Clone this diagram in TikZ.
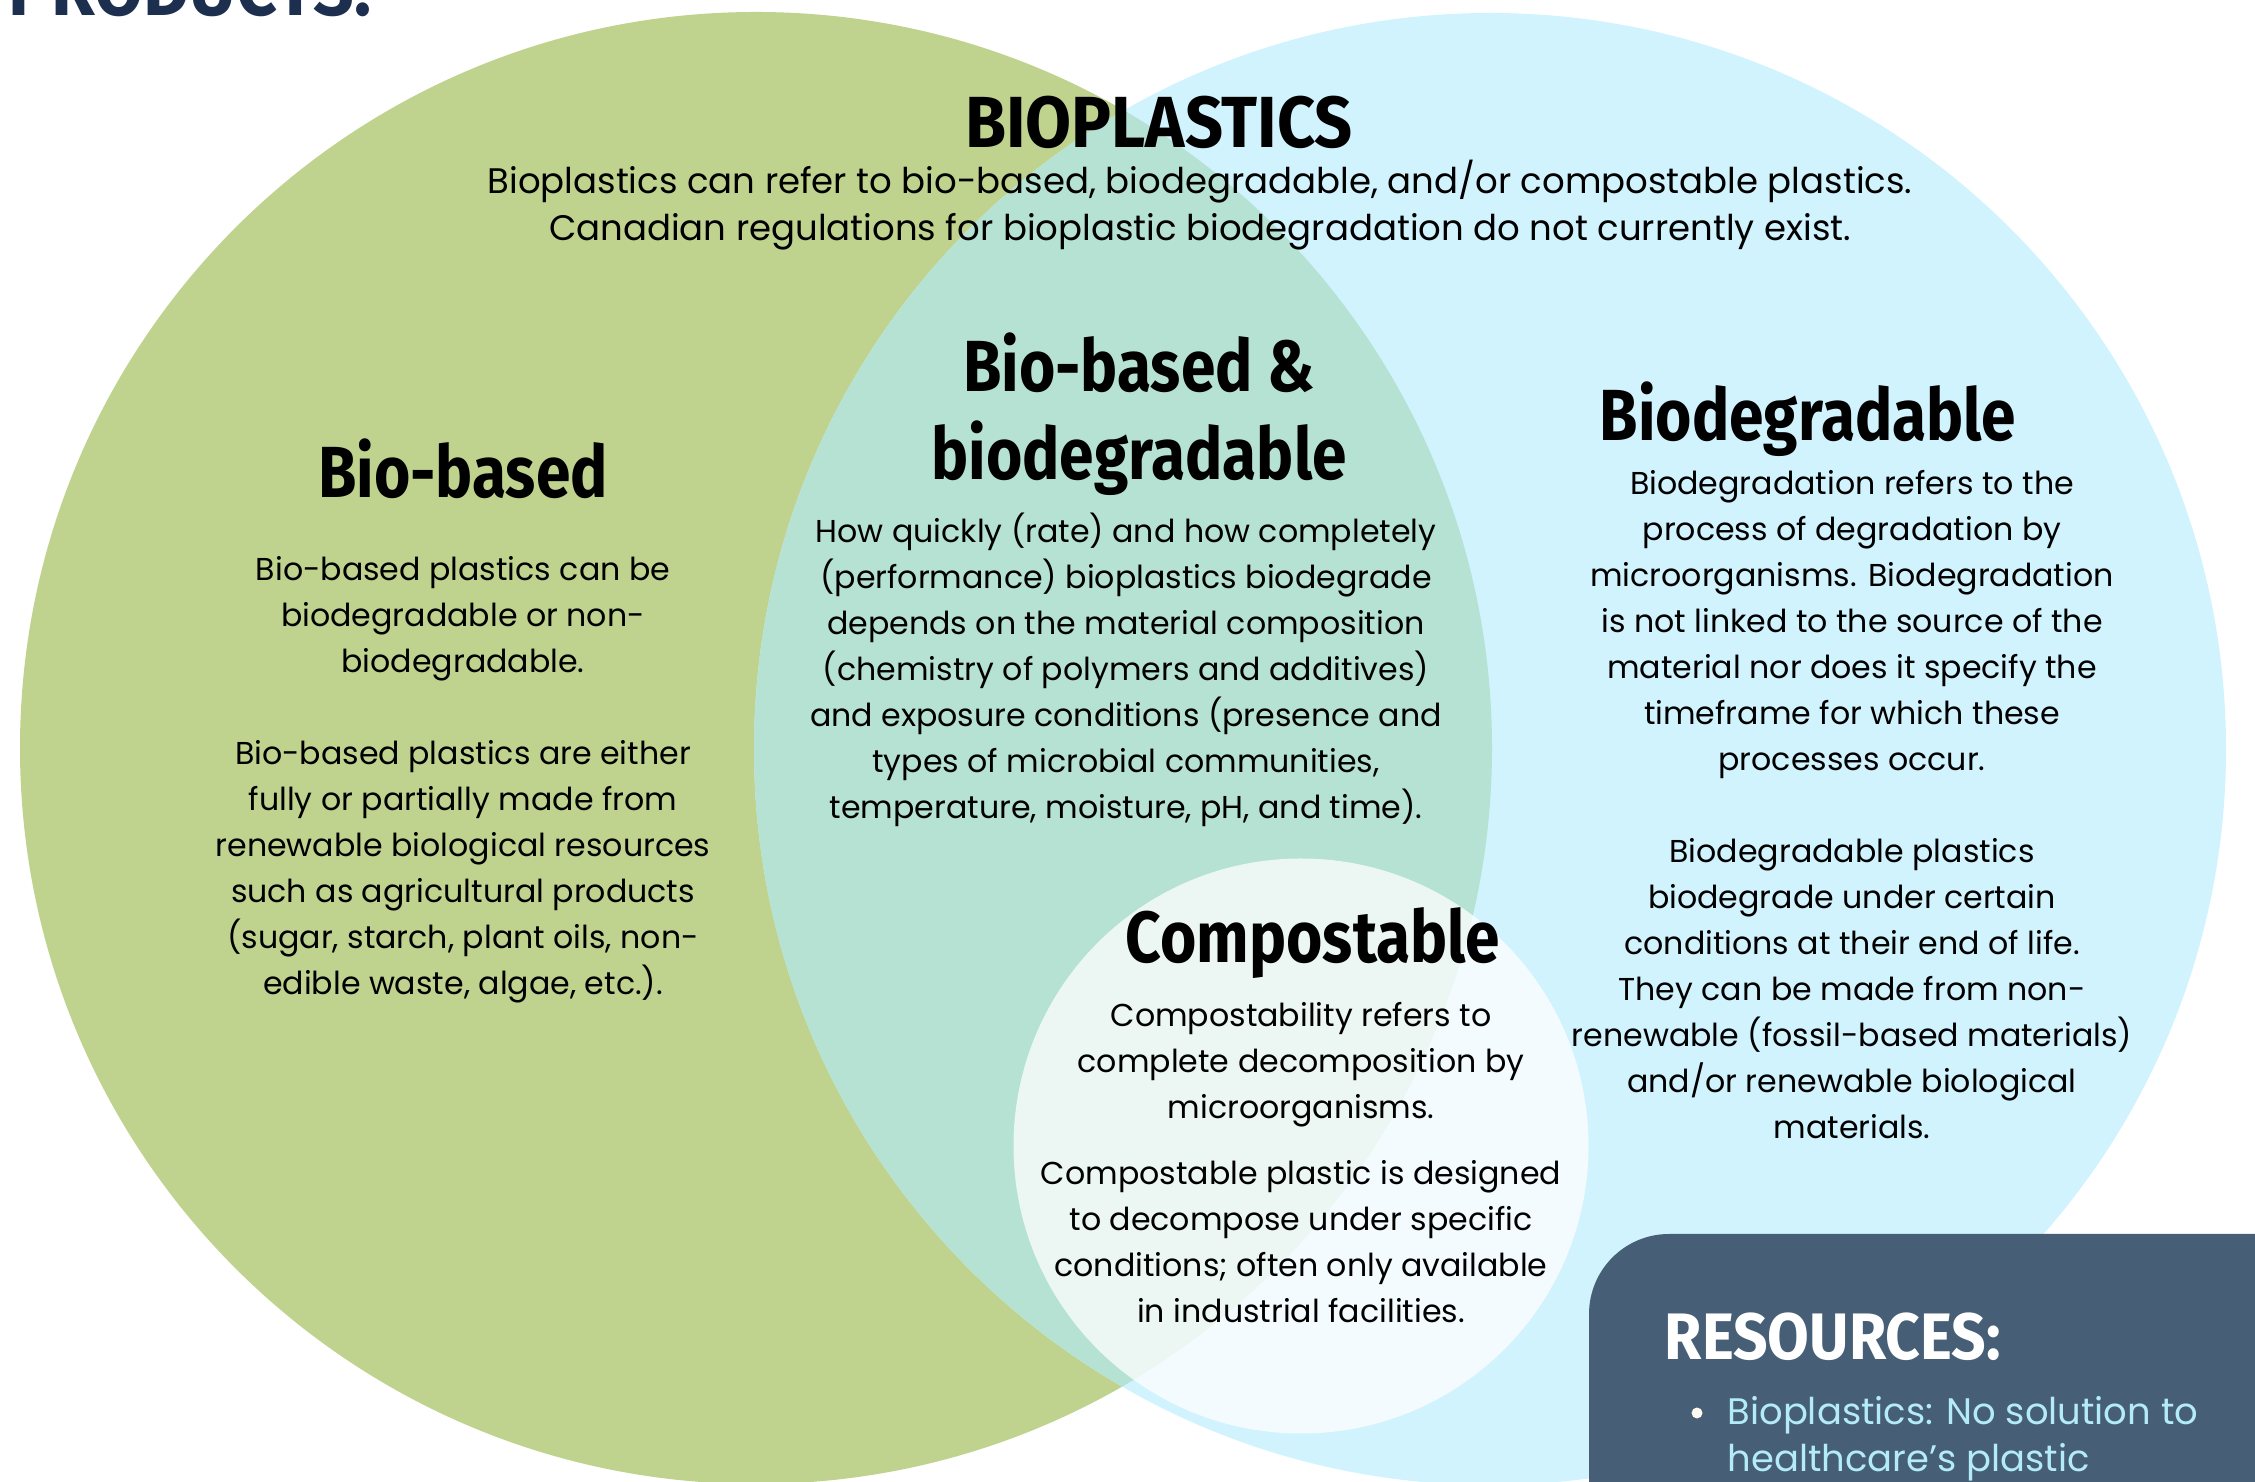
\documentclass[tikz,border=0pt]{standalone}
\usepackage{fontspec}
\setmainfont{Poppins}
\newfontfamily\headfont{Fira Sans}[FakeStretch=0.86]
\newfontfamily\capsfont{Fira Sans}[FakeStretch=0.92]

\definecolor{leafgreen}{HTML}{BFD38F}
\definecolor{skyblue}{HTML}{D1F3FD}
\definecolor{mintmix}{HTML}{B6E2D3}
\definecolor{slatebox}{HTML}{465F76}
\definecolor{navytitle}{HTML}{1D2F4F}
\definecolor{icetext}{HTML}{B4EBF8}

\begin{document}
\begin{tikzpicture}[
	head/.style={font=\headfont\bfseries\fontsize{20.6}{25.3}\selectfont, align=center, inner sep=0pt},
	body/.style={font=\fontsize{9}{13.1}\selectfont, align=center, inner sep=0pt},
	lead/.style={font=\fontsize{10.1}{13.4}\selectfont, align=center, inner sep=0pt}
	]
	\useasboundingbox (0,0) rectangle (22.55,14.81);
	\clip (0,0) rectangle (22.55,14.81);

	% the three sets
	\fill[leafgreen] (7.56,7.33) circle (7.36);
	\fill[skyblue] (14.90,7.32) circle (7.36);
	\begin{scope}
		\clip (7.56,7.33) circle (7.36);
		\fill[mintmix] (14.90,7.32) circle (7.36);
	\end{scope}
	\fill[white, fill opacity=0.75] (13.01,3.35) circle (2.875);

	% resources panel, bottom right
	\fill[slatebox, rounded corners=0.8cm] (15.89,-1.5) rectangle (24,2.47);

	% multi-line nodes sit on the baseline of their last line
	\draw (0.08,14.65) node[anchor=base west, inner sep=0pt, text=navytitle, font=\capsfont\bfseries\fontsize{22}{26}\selectfont] (products) {PRODUCTS:};

	\draw (11.59,13.33) node[anchor=base, inner sep=0pt, font=\capsfont\bfseries\fontsize{20.6}{25.3}\selectfont] (bioplastics) {BIOPLASTICS};
	\draw (12.00,12.40) node[lead, anchor=base] (bioplasticstext) {Bioplastics can refer to bio-based, biodegradable, and/or compostable plastics.\\
		Canadian regulations for bioplastic biodegradation do not currently exist.};

	\draw (4.63,9.83) node[head, anchor=base] (biobased) {Bio-based};
	\draw (4.63,4.86) node[body, anchor=base] (biobasedtext) {Bio-based plastics can be\\ biodegradable or non-\\ biodegradable.\\[13.1pt]
		Bio-based plastics are either\\ fully or partially made from\\ renewable biological resources\\ such as agricultural products\\ (sugar, starch, plant oils, non-\\ edible waste, algae, etc.).};

	\draw (11.39,10.01) node[head, anchor=base] (both) {Bio-based \&\\ biodegradable};
	\draw (11.26,6.62) node[body, anchor=base] (bothtext) {How quickly (rate) and how completely\\ (performance) bioplastics biodegrade\\ depends on the material composition\\ (chemistry of polymers and additives)\\ and exposure conditions (presence and\\ types of microbial communities,\\ temperature, moisture, pH, and time).};

	\draw (18.08,10.40) node[head, anchor=base] (biodeg) {Biodegradable};
	\draw (18.52,3.42) node[body, anchor=base] (biodegtext) {Biodegradation refers to the\\ process of degradation by\\ microorganisms. Biodegradation\\ is not linked to the source of the\\ material nor does it specify the\\ timeframe for which these\\ processes occur.\\[13.1pt]
		Biodegradable plastics\\ biodegrade under certain\\ conditions at their end of life.\\ They can be made from non-\\ renewable (fossil-based materials)\\ and/or renewable biological\\ materials.};

	\draw (13.13,5.18) node[head, anchor=base] (compost) {Compostable};
	\draw (13.01,1.58) node[body, anchor=base] (composttext) {Compostability refers to\\ complete decomposition by\\ microorganisms.\\[0.2cm]
		Compostable plastic is designed\\ to decompose under specific\\ conditions; often only available\\ in industrial facilities.};

	\draw (16.64,1.21) node[anchor=base west, inner sep=0pt, text=white, font=\capsfont\bfseries\fontsize{18.7}{22}\selectfont] (resources) {RESOURCES:};
	\draw (16.97,0.68) node[circle, fill=white!95!orange, inner sep=0pt, minimum size=1.1mm] (dot) {};
	\draw (17.27,0.10) node[anchor=base west, inner sep=0pt, text=icetext, align=left, font=\fontsize{10.5}{13.3}\selectfont] (resourceitem) {Bioplastics: No solution to\\ healthcare's plastic};
\end{tikzpicture}
\end{document}
